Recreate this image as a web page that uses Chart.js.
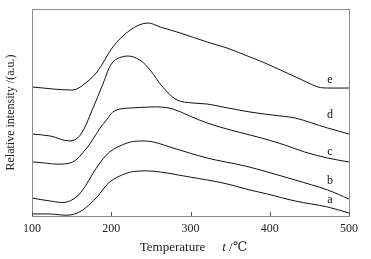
<!DOCTYPE html>
<html>
<head>
<meta charset="utf-8">
<script src="https://cdn.jsdelivr.net/npm/chart.js@4/dist/chart.umd.min.js"></script>
<style>
html,body{margin:0;padding:0;background:#fff;}
#c{display:block;}
</style>
</head>
<body>
<canvas id="c" width="371" height="259"></canvas>
<script>
// Temperature (°C) and relative intensity (a.u., stacked offsets as drawn)
const tempE = [100,150,161,182,202,224,245,262,287,321,346,375,394,419,441,461,473,500];
const valE  = [129,126,129,144,169,186,193,189,183,174,168,159,153,144,136,129,128,128];

const tempD = [100,123,148,161,176,190,202,220,236,249,265,283,303,321,341,375,403,432,453,473,500];
const valD  = [82,80,75,81,106,133,154,160,156,146,129,116,113,112,109,104,101,98,93,88,82];

const tempC = [100,148,169,186,195,202,211,224,249,262,278,299,321,346,375,394,419,444,473,500];
const valC  = [54,53,68,88,97,104,107,108,109,109,107,100,93,87,81,77,71,64,58,54];

const tempB = [100,123,144,161,182,198,220,236,253,278,321,369,397,432,473,500];
const valB  = [18,15,14,23,49,64,73,75,74,68,58,50,44,36,26,17];

const tempA = [100,123,148,164,182,198,220,236,249,262,299,341,375,397,432,473,500];
const valA  = [2,2,1,6,19,34,43,45,45,44,39,33,26,22,15,9,3];

const curveNames = ['e','d','c','b','a'];
const labelTemp = 476;
const labelVal = [136,101,64,35,16];

const xTicks = [100,200,300,400,500];

function pts(t, v){ return t.map((x,i)=>({x:x, y:v[i]})); }
const series = [pts(tempE,valE), pts(tempD,valD), pts(tempC,valC), pts(tempB,valB), pts(tempA,valA)];

const SERIF = '"Liberation Serif", "DejaVu Serif", serif';

const framePlugin = {
  id:'frame',
  afterDraw(chart){
    const ctx = chart.ctx, a = chart.chartArea;
    const xs = chart.scales.x, ys = chart.scales.y;
    ctx.save();
    ctx.strokeStyle = '#8c8c8c';
    ctx.lineWidth = 1;
    ctx.strokeRect(Math.round(a.left)+0.5, Math.round(a.top)+0.5, Math.round(a.right-a.left), Math.round(a.bottom-a.top));
    // inward ticks
    ctx.strokeStyle = '#555';
    xTicks.forEach(t=>{
      const px = Math.round(xs.getPixelForValue(t))+0.5;
      ctx.beginPath(); ctx.moveTo(px, a.bottom); ctx.lineTo(px, a.bottom-4); ctx.stroke();
    });
    // curve letters
    ctx.fillStyle = '#111';
    ctx.font = '12px ' + SERIF;
    ctx.textAlign = 'center';
    ctx.textBaseline = 'middle';
    curveNames.forEach((n,i)=>{
      ctx.fillText(n, xs.getPixelForValue(labelTemp), ys.getPixelForValue(labelVal[i]));
    });
    // x-axis title with italic symbol
    ctx.fillStyle = '#222';
    ctx.textBaseline = 'alphabetic';
    ctx.textAlign = 'left';
    ctx.font = '13px ' + SERIF;
    const cx = (a.left + a.right)/2;
    const w1 = ctx.measureText('Temperature').width;
    ctx.font = 'italic 13px ' + SERIF;
    const wt = ctx.measureText('t').width;
    ctx.font = '13px ' + SERIF;
    const w2 = ctx.measureText(' /℃').width;
    const gap = 17;
    let x0 = cx - (w1 + gap + wt + w2)/2 + 3;
    const yb = a.bottom + 35;
    ctx.fillText('Temperature', x0, yb);
    ctx.font = 'italic 13px ' + SERIF;
    ctx.fillText('t', x0 + w1 + gap, yb);
    ctx.font = '13px ' + SERIF;
    ctx.fillText(' /℃', x0 + w1 + gap + wt, yb);
    ctx.restore();
  }
};

new Chart(document.getElementById('c'), {
  type:'line',
  data:{
    datasets: series.map((s,i)=>({
      label: curveNames[i],
      data: s,
      borderColor:'#111',
      borderWidth:1,
      pointRadius:0,
      fill:false,
      tension:0.35
    }))
  },
  options:{
    responsive:false,
    animation:false,
    devicePixelRatio:1,
    layout:{padding:{top:9,right:22,left:0,bottom:0}},
    plugins:{legend:{display:false}, tooltip:{enabled:false}},
    scales:{
      x:{
        type:'linear', min:100, max:500,
        afterBuildTicks(s){ s.ticks = xTicks.map(v=>({value:v})); },
        afterFit(s){ s.height = 43; },
        grid:{display:false, drawTicks:false},
        border:{display:false},
        ticks:{padding:6, color:'#222', font:{family:SERIF, size:12}},
        title:{display:false}
      },
      y:{
        type:'linear', min:0, max:207,
        afterFit(s){ s.width = 32; },
        grid:{display:false, drawTicks:false},
        border:{display:false},
        ticks:{display:false},
        title:{display:true, text:'Relative intensity /(a.u.)', color:'#222', font:{family:SERIF, size:12}}
      }
    }
  },
  plugins:[framePlugin]
});
</script>
</body>
</html>
